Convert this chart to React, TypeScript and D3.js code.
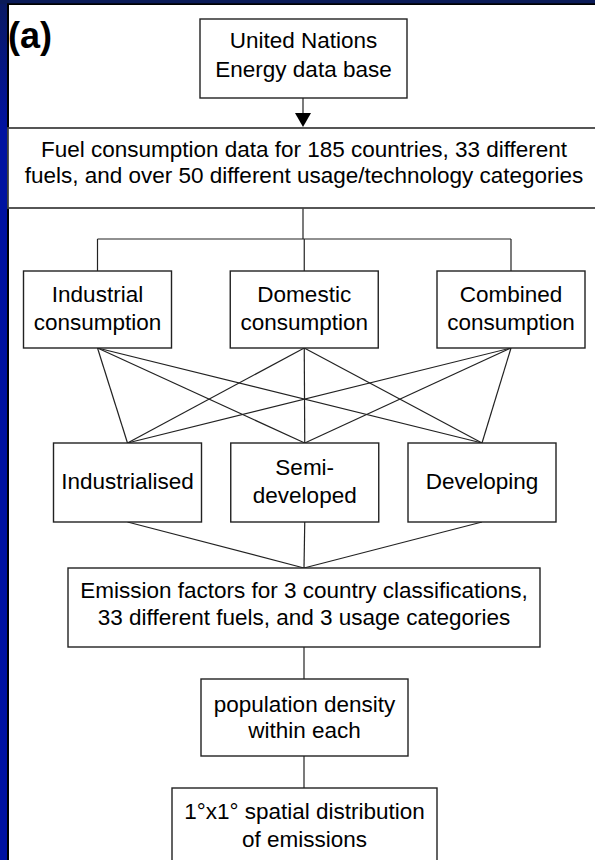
import React from "react";
import * as d3 from "d3";

// ---------- content (labels) ----------
const panelLabel = "(a)";
const sourceLines = ["United Nations", "Energy data base"];
const inventoryLines = [
  "Fuel consumption data for 185 countries, 33 different",
  "fuels, and over 50 different usage/technology categories",
];
const usageCategories = ["Industrial", "Domestic", "Combined"];
const usageLines = [
  ["Industrial", "consumption"],
  ["Domestic", "consumption"],
  ["Combined", "consumption"],
];
const countryClasses = ["Industrialised", "Semi-developed", "Developing"];
const countryLines = [["Industrialised"], ["Semi-", "developed"], ["Developing"]];
const factorLines = [
  "Emission factors for 3 country classifications,",
  "33 different fuels, and 3 usage categories",
];
const populationLines = ["population density", "within each"];
const outputLines = ["1°x1° spatial distribution", "of emissions"];

// ---------- layout ----------
const W = 595;
const H = 860;
const FONT = "'Liberation Sans', Arial, Helvetica, sans-serif";
const FS = 22.5;
const LH = 27.5;
const STROKE = "#222";

const usageX = d3.scalePoint<string>().domain(usageCategories).range([97.5, 511]);
const classX = d3.scalePoint<string>().domain(countryClasses).range([127.5, 482]);
const centerX = 304;

const rows = {
  source: { y: 19, h: 79, w: 207 },
  inventory: { y: 128, h: 80 },
  usage: { y: 271, h: 77, w: 148 },
  classes: { y: 443, h: 79, w: 148 },
  factor: { y: 568, h: 79, w: 472 },
  population: { y: 679, h: 77, w: 207 },
  output: { y: 788, h: 110, w: 265 },
};
const busY = 239;

function TextBlock({ cx, cy, lines, dy = 6.5, lh = LH }: { cx: number; cy: number; lines: string[]; dy?: number; lh?: number }) {
  const n = lines.length;
  return (
    <text fontFamily={FONT} fontSize={FS} fill="#000" textAnchor="middle">
      {lines.map((l, i) => (
        <tspan key={i} x={cx} y={cy + (i - (n - 1) / 2) * lh + dy}>
          {l}
        </tspan>
      ))}
    </text>
  );
}

function Box({ cx, y, w, h, lines, dy, lh }: { cx: number; y: number; w: number; h: number; lines: string[]; dy?: number; lh?: number }) {
  return (
    <g>
      <rect x={cx - w / 2} y={y} width={w} height={h} fill="#fff" stroke={STROKE} strokeWidth={1.4} />
      <TextBlock cx={cx} cy={y + h / 2} lines={lines} dy={dy} lh={lh} />
    </g>
  );
}

export default function App() {
  const line = d3.line<[number, number]>();
  const uBottom = rows.usage.y + rows.usage.h;
  const cTop = rows.classes.y;
  const cBottom = rows.classes.y + rows.classes.h;
  const links = d3.cross(usageCategories, countryClasses);

  return (
    <svg width={W} height={H} style={{ position: "absolute", left: 0, top: 0, display: "block" }}>
      <defs>
        <linearGradient id="frame" x1="0" y1="0" x2="0" y2="1">
          <stop offset="0" stopColor="#0a1a62" />
          <stop offset="0.15" stopColor="#0012a0" />
          <stop offset="1" stopColor="#0012a2" />
        </linearGradient>
      </defs>
      {/* frame */}
      <rect x={0} y={0} width={W} height={H} fill="url(#frame)" />
      <rect x={0} y={0} width={W} height={4} fill="#0b1b58" />
      <rect x={7} y={3.3} width={W} height={H} fill="#000" />
      <rect x={9} y={5} width={W} height={H} fill="#fff" />

      {/* panel label */}
      <text x={8} y={48} fontFamily={FONT} fontSize={36} fontWeight="bold" fill="#000">
        {panelLabel}
      </text>

      {/* connectors */}
      <g stroke={STROKE} strokeWidth={1.2} fill="none">
        <path d={line([[centerX - 1, rows.source.y + rows.source.h], [centerX - 1, 114]])!} />
        <path d={line([[centerX - 1, rows.inventory.y + rows.inventory.h], [centerX - 1, busY]])!} />
        <path d={line([[usageX("Industrial")!, busY], [usageX("Combined")!, busY]])!} />
        {usageCategories.map((u) => (
          <path key={u} d={line([[usageX(u)!, busY], [usageX(u)!, rows.usage.y]])!} />
        ))}
        {links.map(([u, c]) => (
          <path key={u + c} d={line([[usageX(u)!, uBottom], [classX(c)!, cTop]])!} />
        ))}
        {countryClasses.map((c) => (
          <path key={c} d={line([[classX(c)!, cBottom], [centerX, rows.factor.y]])!} />
        ))}
        <path d={line([[centerX, rows.factor.y + rows.factor.h], [centerX, rows.population.y]])!} />
        <path d={line([[centerX, rows.population.y + rows.population.h], [centerX, rows.output.y]])!} />
      </g>
      <path d={`M${centerX - 9},113 L${centerX + 7},113 L${centerX - 1},127 Z`} fill="#000" />

      {/* boxes */}
      <Box cx={centerX - 0.5} y={rows.source.y} w={rows.source.w} h={rows.source.h} lines={sourceLines} dy={4} lh={28.5} />
      <rect x={8} y={rows.inventory.y} width={W + 20} height={rows.inventory.h} fill="#fff" stroke="#444" strokeWidth={1.8} />
      <TextBlock cx={304} cy={rows.inventory.y + rows.inventory.h / 2} lines={inventoryLines} dy={2} lh={26} />
      {usageCategories.map((u, i) => (
        <Box key={u} cx={usageX(u)!} y={rows.usage.y} w={rows.usage.w} h={rows.usage.h} lines={usageLines[i]} />
      ))}
      {countryClasses.map((c, i) => (
        <Box key={c} cx={classX(c)!} y={rows.classes.y} w={rows.classes.w} h={rows.classes.h} lines={countryLines[i]} dy={6.5} />
      ))}
      <Box cx={centerX} y={rows.factor.y} w={rows.factor.w} h={rows.factor.h} lines={factorLines} dy={4} />
      <Box cx={centerX + 0.5} y={rows.population.y} w={rows.population.w} h={rows.population.h} lines={populationLines} dy={7} lh={26} />
      <Box cx={centerX + 0.5} y={rows.output.y} w={rows.output.w} h={rows.output.h} lines={outputLines} dy={-10} />
    </svg>
  );
}
